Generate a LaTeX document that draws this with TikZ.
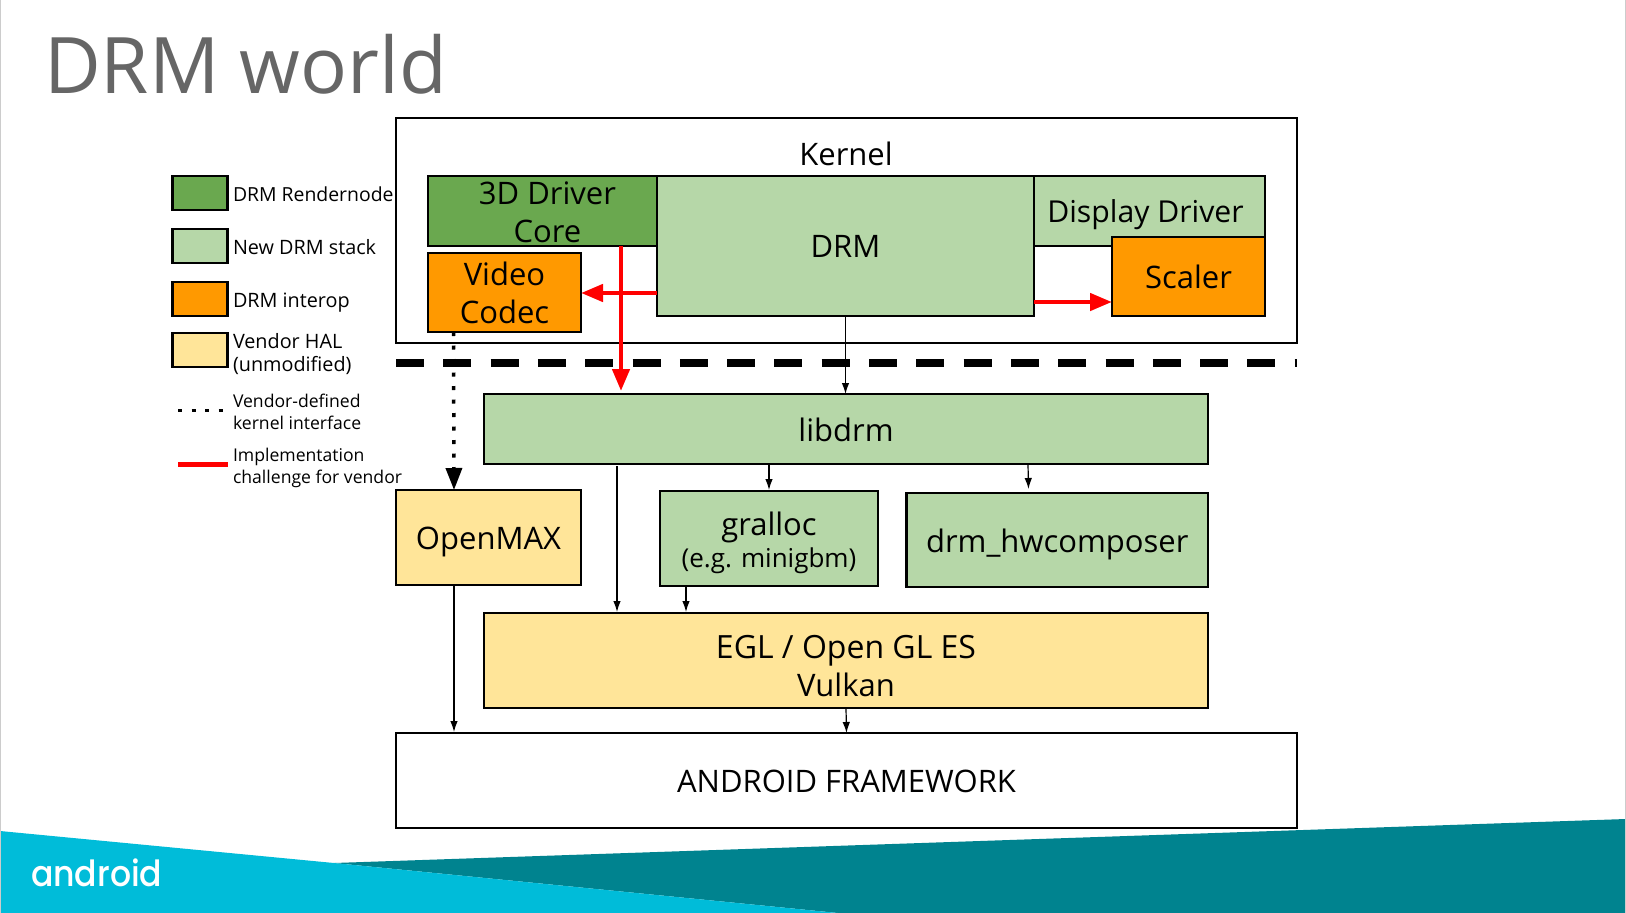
\documentclass[tikz,border=0pt]{standalone}
\usepackage{fontspec}
\setmainfont{Open Sans}
\newfontfamily\titlefont{Open Sans}
\newfontfamily\logofont[FakeStretch=0.92]{Poppins Medium}
\usetikzlibrary{arrows.meta}
\definecolor{rendergreen}{HTML}{6AA84F}
\definecolor{stackgreen}{HTML}{B6D7A8}
\definecolor{interoporange}{HTML}{FF9900}
\definecolor{halyellow}{HTML}{FFE599}
\definecolor{titlegray}{HTML}{666666}
\definecolor{edgegray}{HTML}{CCCCCC}
\definecolor{bandblue}{HTML}{00BCD9}
\definecolor{bandteal}{HTML}{00838F}
\tikzset{
	every node/.style={inner sep=0pt, outer sep=0pt},
	every label/.style={align=center, font=\fontsize{31}{38}\selectfont},
	block/.style={draw=black, line width=2.6pt, align=center, font=\fontsize{31}{38}\selectfont},
	swatch/.style={draw=black, line width=2.6pt, minimum width=55pt, minimum height=34pt},
	legendtext/.style={anchor=west, align=left, font=\fontsize{19.8}{22.5}\selectfont},
	smalltext/.style={anchor=west, align=left, font=\fontsize{17.6}{22}\selectfont},
	thinarrow/.style={draw=black, line width=1.2pt, -{Latex[length=11pt,width=7.5pt]}},
	redarrow/.style={draw=red, line width=4.5pt, -{Triangle[length=22pt,width=17pt]}},
	dotline/.style={line width=3.5pt, dash pattern=on 4pt off 9.5pt},
}
\begin{document}
\begin{tikzpicture}[x=1pt,y=-1pt]
	\useasboundingbox (0,0) rectangle (1626,913);
	% slide
	\fill [white] (0,0) rectangle (1626,913);
	\fill [bandteal] (334,863) -- (1626,819) -- (1626,913) -- (838,913) -- cycle;
	\fill [bandblue] (0,831) -- (334,863) -- (838,913) -- (0,913) -- cycle;
	\draw [edgegray, line width=2pt] (0,0) -- (0,913);
	\draw [edgegray, line width=2pt] (1626,0) -- (1626,913);
	\node [anchor=base west, text=titlegray, font=\titlefont\fontsize{78}{78}\selectfont] (title) at (44,93) {DRM world};
	\node [anchor=base west, text=white, font=\logofont\fontsize{36}{36}\selectfont] (logo) at (31,886) {android};
	% kernel
	\node [block, minimum width=901pt, minimum height=225pt] (kernel) at (846.5,230.5) {};
	\node [font=\fontsize{31}{38}\selectfont] (kerneltext) at (846,154) {Kernel};
	\node [block, fill=rendergreen, minimum width=229pt, minimum height=70pt, label={[xshift=5pt,yshift=-1pt]center:3D Driver\\Core}] (core) at (542.5,211) {};
	\node [block, fill=interoporange, minimum width=153pt, minimum height=79pt] (codec) at (504.5,292.5) {Video\\Codec};
	\node [block, fill=stackgreen, minimum width=231pt, minimum height=70pt, label={[xshift=-4pt,yshift=-4pt,font=\fontsize{30.2}{38}\selectfont]center:Display Driver}] (display) at (1149.5,211) {};
	\node [block, fill=stackgreen, minimum width=377pt, minimum height=140pt] (drm) at (845.5,246) {DRM};
	\node [block, fill=interoporange, minimum width=153pt, minimum height=79pt] (scaler) at (1188.5,276.5) {Scaler};
	% boundary
	\coordinate (boundL) at (396,363);
	\coordinate (boundR) at (1297,363);
	\draw [line width=8pt, dash pattern=on 28pt off 19.3pt] (boundL) -- (boundR);
	% userspace
	\node [block, fill=stackgreen, minimum width=724pt, minimum height=70pt, label={[yshift=-1pt]center:libdrm}] (libdrm) at (846,429) {};
	\node [block, fill=halyellow, minimum width=185pt, minimum height=95pt, label={[yshift=-4pt]center:OpenMAX}] (openmax) at (488.5,537.5) {};
	\node [block, fill=stackgreen, minimum width=218pt, minimum height=95pt, label={[yshift=-4pt]center:gralloc\\[-6pt]\fontsize{26}{32}\selectfont(e.g. minigbm)}] (gralloc) at (769,538.5) {};
	\node [block, fill=stackgreen, minimum width=301.5pt, minimum height=94pt, label={[yshift=-4pt]center:drm\_hwcomposer}] (hwc) at (1057.25,540) {};
	\node [block, fill=halyellow, minimum width=724pt, minimum height=95pt, label={[yshift=-6pt]center:{\fontsize{32}{38}\selectfont EGL / Open GL ES}\\Vulkan}] (egl) at (846,660.5) {};
	\node [block, minimum width=901pt, minimum height=95pt, label={[yshift=-1pt]center:ANDROID FRAMEWORK}] (framework) at (846.5,780.5) {};
	% legend
	\node [swatch, fill=rendergreen] (key1) at (200,193) {};
	\node [swatch, fill=stackgreen] (key2) at (200,246) {};
	\node [swatch, fill=interoporange] (key3) at (200,299) {};
	\node [swatch, fill=halyellow] (key4) at (200,350) {};
	\node [legendtext, font=\fontsize{19.4}{22.5}\selectfont] (text1) at (233,194) {DRM Rendernode};
	\node [legendtext] (text2) at (233,247) {New DRM stack};
	\node [legendtext] (text3) at (233,303) {DRM interop};
	\node [legendtext] (text4) at (233,354) {Vendor HAL\\(unmodified)};
	\node [smalltext] (text5) at (233,412) {Vendor-defined\\kernel interface};
	\node [smalltext] (text6) at (233,468) {Implementation\\challenge for vendor};
	\coordinate (dotsL) at (178,410.5);
	\coordinate (dotsR) at (225,410.5);
	\coordinate (redL) at (178,464);
	\coordinate (redR) at (228,464);
	\draw [dotline] (dotsL) -- (dotsR);
	\draw [red, line width=5pt] (redL) -- (redR);
	% thin connectors
	\draw [thinarrow] (drm.south) -- ([xshift=-0.5pt]libdrm.north);
	\draw [thinarrow] ([xshift=285pt]libdrm.south west) -- ([yshift=1pt,xshift=109pt]gralloc.north west);
	\draw [thinarrow] ([xshift=544pt]libdrm.south west) -- ([xshift=122pt,yshift=4pt]hwc.north west);
	\draw [thinarrow] ([xshift=133pt,yshift=-2pt]libdrm.south west) -- ([xshift=133pt,yshift=1pt]egl.north west);
	\draw [thinarrow] ([xshift=26pt]gralloc.south west) -- ([xshift=202pt,yshift=1pt]egl.north west);
	\draw [thinarrow] ([xshift=58pt]openmax.south west) -- ([xshift=58pt,yshift=1pt]framework.north west);
	\draw [thinarrow] (egl.south) -- (framework.north);
	% heavy connectors
	\draw [dotline, -{Triangle[length=22pt,width=16pt]}] ([xshift=25.5pt]codec.south west) -- ([xshift=58pt]openmax.north west);
	\draw [redarrow] ([xshift=193pt]core.south west) -- ([xshift=137pt,yshift=3pt]libdrm.north west);
	\draw [redarrow] ([yshift=-117pt]drm.north west) -- ([yshift=-40pt]codec.north east);
	\draw [redarrow] ([yshift=14pt]drm.south east) -- ([yshift=14pt]scaler.south west);
\end{tikzpicture}
\end{document}
